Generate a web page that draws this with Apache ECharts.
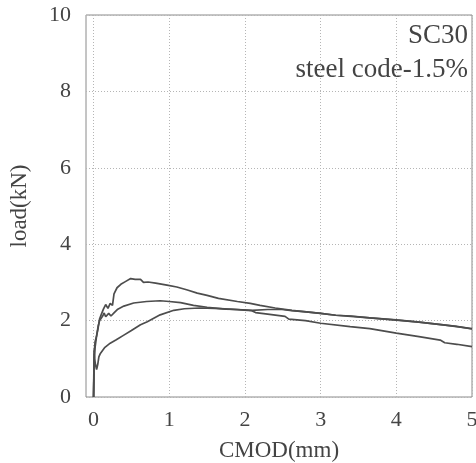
<!DOCTYPE html>
<html>
<head>
<meta charset="utf-8">
<script src="https://cdn.jsdelivr.net/npm/echarts@6/dist/echarts.min.js"></script>
<style>
  html, body { margin: 0; padding: 0; background: #fff; }
  #chart { width: 476px; height: 463px; }
</style>
</head>
<body>
<div id="chart"></div>
<script>
// CMOD (mm) vs load (kN), three specimens
const curveA = [
  [0, 0], [0.005, 0.6], [0.01, 1.1], [0.02, 1.3], [0.04, 1.6], [0.06, 1.8], [0.08, 2.05],
  [0.1, 2.15], [0.13, 2.3], [0.16, 2.42], [0.19, 2.32], [0.22, 2.45], [0.25, 2.4],
  [0.27, 2.7], [0.31, 2.86], [0.36, 2.95], [0.42, 3.02], [0.49, 3.1], [0.55, 3.08],
  [0.62, 3.08], [0.66, 3.0], [0.72, 3.01], [0.82, 2.98], [0.97, 2.93], [1.1, 2.88],
  [1.24, 2.8], [1.37, 2.72], [1.5, 2.66], [1.65, 2.58], [1.9, 2.5], [2.07, 2.45],
  [2.2, 2.4], [2.4, 2.33], [2.62, 2.27], [2.81, 2.23], [3.0, 2.19], [3.2, 2.14],
  [3.4, 2.12], [3.65, 2.07], [4.0, 2.02], [4.3, 1.96], [4.62, 1.89], [4.8, 1.85], [5.0, 1.78]
];
const curveB = [
  [0, 0], [0.005, 0.7], [0.01, 1.2], [0.02, 1.45], [0.04, 1.6], [0.06, 1.85], [0.08, 2.0],
  [0.1, 2.05], [0.12, 2.12], [0.14, 2.2], [0.16, 2.1], [0.2, 2.19], [0.23, 2.12],
  [0.27, 2.2], [0.32, 2.3], [0.4, 2.38], [0.53, 2.46], [0.7, 2.5], [0.88, 2.52],
  [1.0, 2.5], [1.15, 2.47], [1.32, 2.4], [1.5, 2.35], [1.74, 2.3], [1.9, 2.29],
  [2.09, 2.27], [2.3, 2.29], [2.49, 2.29], [2.62, 2.26], [2.81, 2.23], [3.0, 2.19],
  [3.2, 2.14], [3.4, 2.11], [3.65, 2.07], [4.0, 2.01], [4.3, 1.96], [4.62, 1.89],
  [4.8, 1.84], [5.0, 1.79]
];
const curveC = [
  [0, 0], [0.005, 0.9], [0.01, 1.25], [0.015, 1.0], [0.025, 0.85], [0.04, 0.72],
  [0.055, 0.85], [0.07, 1.05], [0.09, 1.14], [0.15, 1.3], [0.22, 1.41], [0.3, 1.5],
  [0.4, 1.62], [0.5, 1.74], [0.62, 1.89], [0.71, 1.97], [0.88, 2.15], [1.06, 2.27],
  [1.2, 2.31], [1.4, 2.33], [1.6, 2.32], [1.8, 2.3], [2.09, 2.26], [2.14, 2.21],
  [2.3, 2.17], [2.53, 2.11], [2.58, 2.04], [2.8, 2.0], [3.0, 1.93], [3.39, 1.84],
  [3.65, 1.79], [4.0, 1.67], [4.3, 1.58], [4.58, 1.49], [4.64, 1.42], [4.8, 1.38],
  [5.0, 1.32]
];
const xTicks = [0, 1, 2, 3, 4, 5];
const labelLines = ['SC30', 'steel code-1.5%'];

const font = '"Liberation Serif", "Times New Roman", serif';
const lineStyle = { color: '#4d4d4d', width: 1.7 };
const mkSeries = (data) => ({
  type: 'line',
  data,
  showSymbol: false,
  symbol: 'none',
  lineStyle,
  animation: false
});

const chart = echarts.init(document.getElementById('chart'));
chart.setOption({
  backgroundColor: '#fff',
  // the two annotation lines, right aligned in the top right corner
  graphic: labelLines.map((t, i) => ({
    type: 'text',
    right: 8,
    top: 22 + i * 34,
    style: {
      text: t,
      align: 'right',
      font: '27px ' + font,
      fill: '#444'
    }
  })),
  grid: {
    left: 86,
    right: 4,
    top: 15,
    bottom: 66,
    outerBoundsMode: 'none',
    containLabel: false,
    show: true,
    borderColor: '#8a8a8a',
    borderWidth: 1
  },
  xAxis: {
    type: 'value',
    min: -0.1,
    max: 5,
    name: 'CMOD(mm)',
    nameLocation: 'middle',
    nameGap: 42,
    nameTextStyle: { fontFamily: font, fontSize: 23, color: '#444' },
    axisLine: { show: false },
    axisTick: { show: false, customValues: xTicks },
    axisLabel: {
      customValues: xTicks,
      fontFamily: font,
      fontSize: 22,
      color: '#444',
      margin: 12
    },
    splitLine: {
      show: true,
      customValues: xTicks,
      lineStyle: { color: '#b5b5b5', type: [1, 2], width: 1 }
    }
  },
  yAxis: {
    type: 'value',
    min: 0,
    max: 10,
    interval: 2,
    name: 'load(kN)',
    nameLocation: 'middle',
    nameGap: 55,
    nameTextStyle: { fontFamily: font, fontSize: 23, color: '#444' },
    axisLine: { show: false },
    axisTick: { show: false },
    axisLabel: {
      fontFamily: font,
      fontSize: 22,
      color: '#444',
      margin: 15
    },
    splitLine: {
      show: true,
      lineStyle: { color: '#b5b5b5', type: [1, 2], width: 1 }
    }
  },
  series: [mkSeries(curveA), mkSeries(curveB), mkSeries(curveC)]
});
</script>
</body>
</html>
